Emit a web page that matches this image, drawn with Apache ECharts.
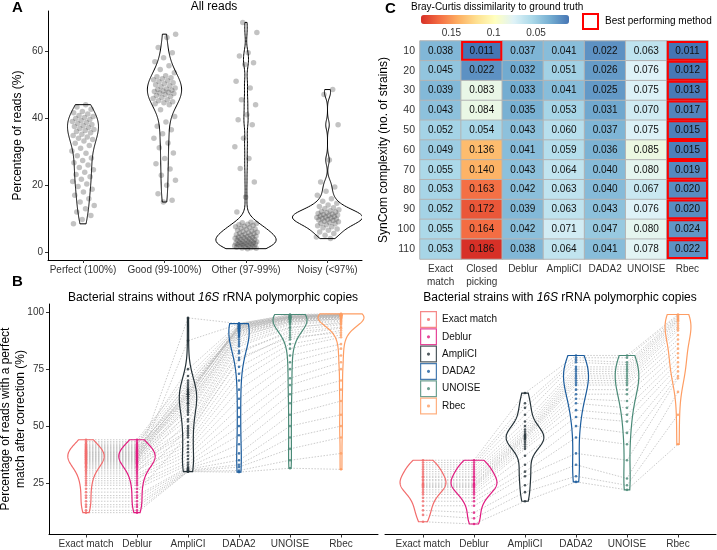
<!DOCTYPE html>
<html><head><meta charset="utf-8">
<script src="https://cdn.jsdelivr.net/npm/echarts@6/dist/echarts.min.js"></script>
<style>html,body{margin:0;padding:0;background:#fff}#c{width:717px;height:550px}</style>
</head><body><div id="c"></div>
<script>
// ===== Panel A: all reads =====
const readCats = ['Perfect (100%)', 'Good (99-100%)', 'Other (97-99%)', 'Noisy (<97%)'];
const perfectReads = [44.0, 43.3, 42.6,
  42.0, 41.6, 41.2, 40.8, 40.5, 40.2, 39.9, 39.6, 39.3, 39.0, 38.7, 38.4, 38.1, 37.8, 37.5, 37.2, 36.9, 36.6, 36.3, 36.0, 35.6, 35.2, 34.8, 34.4, 34.0, 33.6, 33.2,
  32.5, 31.8, 31.0, 30.2, 29.5, 28.8, 28.1, 27.4, 26.7, 26.0, 25.3, 24.6, 23.9, 23.2, 22.5, 21.8, 21.1, 20.4, 19.6, 18.8, 18.0, 17.0, 16.0, 15.0, 14.0, 13.0, 12.0, 11.0, 9.8, 8.5];
const goodReads = [65.0, 64.0, 61.0, 59.5, 58.0, 56.8, 55.6, 54.5, 53.5,
  52.6, 52.3, 52.0, 51.7, 51.4, 51.1, 50.8, 50.5, 50.2, 49.9, 49.6, 49.3, 49.0, 48.7, 48.5, 48.3, 48.1, 47.9, 47.7, 47.5, 47.3, 47.0, 46.7, 46.4, 46.1, 45.8, 45.5, 45.2, 44.9, 44.6, 44.3, 44.0,
  42.5, 40.5, 38.8, 37.6, 36.5, 35.3, 34.0, 32.6, 31.2, 29.6, 28.0, 26.4, 24.8, 23.0, 21.5, 20.0, 17.5, 15.5, 15.0];
const otherReads = [68.5, 65.5, 59.5, 58.5, 56.5, 56.0, 51.0, 49.0, 45.5, 44.0, 41.0, 39.5, 38.0, 34.0, 31.5, 28.0, 25.0, 21.0, 16.5, 12.0,
  9.0, 8.8, 8.6, 8.4, 8.2, 8.0, 7.8, 7.6, 7.4, 7.2, 7.0, 6.8, 6.6, 6.4, 6.2, 6.0,
  5.85, 5.7, 5.55, 5.4, 5.25, 5.1, 4.95, 4.8, 4.65, 4.5, 4.4, 4.35, 4.2, 4.05, 3.9, 3.8, 3.75, 3.6, 3.45, 3.3, 3.2, 3.15, 3.0,
  2.9, 2.8, 2.75, 2.7, 2.6, 2.5, 2.4, 2.3, 2.2, 2.1, 2.0, 1.9, 1.8, 1.7, 1.6, 1.5, 1.4, 1.3, 1.2, 1.1];
const noisyReads = [48.5, 47.0, 38.0, 27.5, 21.0, 19.5, 18.2, 17.0,
  16.0, 15.2, 14.6, 14.1, 13.7, 13.3, 13.0, 12.7, 12.4, 12.2, 12.0, 11.8, 11.6, 11.45, 11.3, 11.15, 11.0, 10.85, 10.7, 10.55, 10.4, 10.25, 10.1, 9.95, 9.8, 9.65, 9.5, 9.3, 9.1, 8.9, 8.7, 8.5, 8.2, 7.9, 7.6, 7.3, 7.0, 6.6,
  6.1, 5.6, 5.1, 4.6, 4.1];
const readTicks = [0, 20, 40, 60];

// ===== Panel B: strains, per method (one value per strain) =====
const methods = ['Exact match', 'Deblur', 'AmpliCI', 'DADA2', 'UNOISE', 'Rbec'];
const pctTicks = [25, 50, 75, 100];
// without 16S polymorphic copies
const noPolyExact = [44.0, 43.2, 42.6, 42.0, 41.5, 41.0, 40.6, 40.2, 39.8, 39.4, 39.0, 38.7, 38.4, 38.1, 37.8, 37.5, 37.2, 36.9, 36.6, 36.3, 36.0, 35.7, 35.4, 35.1, 34.8, 34.5, 34.1, 33.7, 33.3, 32.9, 32.4, 31.9, 31.3, 30.6, 29.8, 29.0, 28.0, 27.0, 26.0, 25.0, 24.0, 22.5, 21.0, 19.5, 18.5, 17.0, 15.5, 14.5, 13.0, 12.0];
const noPolyDeblur = [44.0, 43.2, 42.6, 42.0, 41.5, 41.0, 40.6, 40.2, 39.8, 39.4, 39.0, 38.7, 38.4, 38.1, 37.8, 37.5, 37.2, 36.9, 36.6, 36.3, 36.0, 35.7, 35.4, 35.1, 34.8, 34.5, 34.1, 33.7, 33.3, 32.9, 32.4, 31.9, 31.3, 30.6, 29.8, 29.0, 28.0, 27.0, 26.0, 25.0, 24.0, 22.5, 21.0, 19.5, 18.5, 17.0, 15.5, 14.5, 13.0, 12.0];
const noPolyAmpliCI = [72, 70, 68, 66, 75, 64, 65, 63, 67, 62, 64, 69, 61, 65, 60, 63, 58, 66, 57, 62, 55, 64, 53, 60, 50, 97.5, 48, 59, 47, 87.5, 45, 56, 43, 41.5, 52, 40, 38.5, 37, 49, 35.5, 34, 33, 46, 32, 31.5, 31, 30.6, 30.3, 30.1, 30];
const noPolyDADA2 = [94.5, 94.0, 94.5, 93.5, 95.0, 93.0, 92.5, 94.0, 93.0, 92.0, 94.5, 91.5, 93.5, 92.8, 90.5, 94.0, 91.0, 93.2, 89.5, 92.0, 88.0, 93.8, 87.0, 91.5, 85.0, 95.0, 82.0, 90.0, 79.0, 94.8, 76.0, 89.0, 73.0, 70.0, 86.0, 66.0, 62.0, 58.0, 83.0, 54.0, 50.0, 46.0, 80.0, 42.0, 38.0, 35.0, 33.0, 32.0, 30.5, 29.8];
const noPolyUNOISE = [98.5, 98.0, 98.3, 97.8, 98.8, 97.5, 97.6, 98.0, 97.0, 97.3, 98.2, 96.8, 97.8, 97.2, 96.5, 98.0, 96.0, 97.6, 95.5, 97.0, 95.0, 97.9, 94.5, 96.8, 93.0, 99.0, 92.0, 96.2, 90.0, 98.6, 88.0, 95.8, 86.0, 84.0, 93.5, 81.0, 78.0, 75.0, 91.0, 71.0, 68.0, 64.0, 89.0, 60.0, 55.0, 50.0, 45.0, 40.0, 35.0, 31.5];
const noPolyRbec = [99.0, 98.8, 99.0, 98.5, 99.2, 98.3, 98.7, 98.9, 98.0, 98.5, 98.9, 97.8, 98.6, 98.2, 97.5, 98.8, 97.0, 98.4, 97.2, 98.0, 96.5, 98.7, 96.0, 97.9, 95.5, 99.3, 94.5, 97.6, 93.0, 99.0, 92.0, 97.0, 90.0, 89.0, 95.0, 86.0, 84.0, 81.0, 93.5, 78.0, 75.0, 70.0, 91.0, 66.0, 61.0, 55.0, 50.0, 45.0, 38.0, 31.0];
// with 16S polymorphic copies
const polyExact = [35.0, 34.0, 33.0, 32.0, 31.0, 30.0, 29.0, 28.0, 27.5, 26.5, 26.0, 25.0, 24.5, 24.0, 23.5, 23.0, 22.0, 21.0, 20.0, 18.5, 17.0, 15.0, 13.0, 11.0, 8.0];
const polyDeblur = [35.0, 34.0, 33.0, 32.0, 31.0, 30.0, 29.0, 28.0, 27.5, 26.5, 26.0, 25.0, 24.5, 24.0, 23.5, 23.0, 22.0, 21.0, 20.0, 18.5, 17.0, 15.0, 12.0, 9.5, 7.0];
const polyAmpliCI = [64.5, 60.0, 58.0, 55.0, 52.0, 50.0, 48.5, 47.5, 46.5, 46.0, 45.5, 45.0, 44.5, 44.0, 43.0, 42.0, 41.0, 40.0, 37.0, 33.0, 30.0, 28.0, 24.0, 21.0, 17.0];
const polyDADA2 = [81.0, 80.0, 79.0, 78.0, 76.0, 75.0, 74.0, 73.0, 72.0, 71.0, 70.0, 69.0, 68.0, 66.0, 64.0, 62.0, 60.0, 57.0, 54.0, 50.0, 45.0, 38.0, 33.0, 28.0, 25.5];
const polyUNOISE = [81.0, 80.0, 78.0, 77.0, 76.0, 75.0, 74.0, 73.0, 72.0, 71.0, 70.0, 69.0, 68.0, 66.0, 64.0, 61.0, 58.0, 55.0, 52.0, 47.0, 42.0, 35.0, 27.0, 24.0, 22.0];
const polyRbec = [99.0, 98.5, 98.0, 97.5, 97.0, 96.5, 96.0, 95.0, 94.0, 93.0, 92.0, 90.0, 88.0, 86.0, 84.0, 82.0, 80.0, 78.0, 76.0, 74.0, 72.0, 71.0, 65.0, 55.0, 42.0];

// ===== Panel C: Bray-Curtis dissimilarity =====
const complexity = ['10', '20', '30', '40', '50', '60', '70', '80', '90', '100', '110'];
const hmMethods = ['Exact\nmatch', 'Closed\npicking', 'Deblur', 'AmpliCI', 'DADA2', 'UNOISE', 'Rbec'];
const bcExact = [0.038, 0.045, 0.039, 0.043, 0.052, 0.049, 0.055, 0.053, 0.052, 0.055, 0.053];
const bcClosed = [0.011, 0.022, 0.083, 0.084, 0.054, 0.136, 0.140, 0.163, 0.172, 0.164, 0.186];
const bcDeblur = [0.037, 0.032, 0.033, 0.035, 0.043, 0.041, 0.043, 0.042, 0.039, 0.042, 0.038];
const bcAmpliCI = [0.041, 0.051, 0.041, 0.053, 0.060, 0.059, 0.064, 0.063, 0.063, 0.071, 0.064];
const bcDADA2 = [0.022, 0.026, 0.025, 0.031, 0.037, 0.036, 0.040, 0.040, 0.043, 0.047, 0.041];
const bcUNOISE = [0.063, 0.076, 0.075, 0.070, 0.075, 0.085, 0.080, 0.067, 0.076, 0.080, 0.078];
const bcRbec = [0.011, 0.012, 0.013, 0.017, 0.015, 0.015, 0.019, 0.020, 0.020, 0.024, 0.022];
const colorbarTicks = [0.15, 0.1, 0.05];

// ===== styling =====
const FONT = '"Liberation Sans", Arial, Helvetica, sans-serif';
const methodColors = ['#f26b6b', '#e0197f', '#253238', '#1b5c9d', '#4a8a77', '#fe9d63'];
const rdylbu = ['#4575b4', '#74add1', '#abd9e9', '#e0f3f8', '#ffffbf', '#fee090', '#fdae61', '#f46d43', '#d73027'];
const tickText = '#333';
const readViolinHalfWidth = [0.19, 0.21, 0.37, 0.43];   // max half-width of each panel-A violin, in category units

// ===== helpers =====
function quantile(s, p) { const h = (s.length - 1) * p, lo = Math.floor(h), hi = Math.min(lo + 1, s.length - 1); return s[lo] + (h - lo) * (s[hi] - s[lo]); }
function kde(vals, n) {
  n = n || 160;
  const s = vals.slice().sort((a, b) => a - b), N = s.length;
  const mean = s.reduce((a, b) => a + b, 0) / N;
  const sd = Math.sqrt(s.reduce((a, b) => a + (b - mean) * (b - mean), 0) / (N - 1));
  let lo = Math.min(sd, (quantile(s, 0.75) - quantile(s, 0.25)) / 1.34);
  if (!(lo > 0)) lo = sd || 1;
  const bw = 0.9 * lo * Math.pow(N, -0.2);
  const ys = [], ds = [];
  for (let k = 0; k < n; k++) {
    const y = s[0] + (s[N - 1] - s[0]) * k / (n - 1);
    let d = 0;
    for (const v of s) { const z = (y - v) / bw; d += Math.exp(-0.5 * z * z); }
    ys.push(y); ds.push(d / (N * bw * Math.sqrt(2 * Math.PI)));
  }
  return { ys, ds };
}
// halfWidths given -> each violin scaled to its own max; otherwise ggplot "area" scaling (max 0.45)
function violinSeries(axisIdx, groups, colors, lw, halfWidths) {
  const kd = groups.map(g => kde(g));
  const maxAll = Math.max(...kd.map(k => Math.max(...k.ds)));
  const scale = kd.map((k, i) => halfWidths ? halfWidths[i] / Math.max(...k.ds) : 0.45 / maxAll);
  return {
    type: 'custom', xAxisIndex: axisIdx, yAxisIndex: axisIdx, clip: true, silent: true, z: 3,
    encode: { x: 0, y: 1 },
    data: groups.map((g, i) => [i, g[0]]),
    renderItem(params, api) {
      const i = params.dataIndex, k = kd[i], L = [], R = [];
      for (let j = 0; j < k.ys.length; j++) {
        const w = scale[i] * k.ds[j];
        L.push(api.coord([i - w, k.ys[j]]));
        R.push(api.coord([i + w, k.ys[j]]));
      }
      return { type: 'polygon', shape: { points: L.concat(R.reverse()) }, style: { fill: 'none', stroke: colors[i], lineWidth: lw } };
    }
  };
}
function jitter(i, c) { return (((i + 1) * 0.6180339887 + c * 0.37) % 1 - 0.5) * 0.28; }

const series = [];
// --- A ---
const readGroups = [perfectReads, goodReads, otherReads, noisyReads];
series.push(violinSeries(0, readGroups, ['#000', '#000', '#000', '#000'], 1, readViolinHalfWidth));
const aPts = [];
readGroups.forEach((g, c) => g.forEach((v, i) => aPts.push([c + jitter(i, c), v])));
series.push({ type: 'scatter', xAxisIndex: 0, yAxisIndex: 0, data: aPts, symbolSize: 5.5, silent: true, z: 2,
  itemStyle: { color: 'rgba(40,40,40,0.35)' } });

// --- B panels ---
function strainPanel(axisIdx, arrays) {
  const n = arrays[0].length;
  for (let s = 0; s < n; s++) {
    series.push({ type: 'line', xAxisIndex: axisIdx, yAxisIndex: axisIdx, symbol: 'none', silent: true, z: 1,
      data: arrays.map((a, mi) => [mi, a[s]]),
      lineStyle: { color: '#b4b4b4', width: 0.7, type: [1.5, 1.5] } });
  }
  series.push(violinSeries(axisIdx, arrays, methodColors, 1.2));
  arrays.forEach((a, mi) => {
    series.push({ type: 'scatter', name: methods[mi], xAxisIndex: axisIdx, yAxisIndex: axisIdx, silent: true, z: 4,
      data: a.map(v => [mi, v]), symbolSize: 2.6, itemStyle: { color: methodColors[mi] } });
  });
}
strainPanel(1, [noPolyExact, noPolyDeblur, noPolyAmpliCI, noPolyDADA2, noPolyUNOISE, noPolyRbec]);
strainPanel(2, [polyExact, polyDeblur, polyAmpliCI, polyDADA2, polyUNOISE, polyRbec]);

// --- C heatmap ---
const bcCols = [bcExact, bcClosed, bcDeblur, bcAmpliCI, bcDADA2, bcUNOISE, bcRbec];
const hmData = [];
bcCols.forEach((col, xi) => col.forEach((v, yi) => hmData.push([xi, yi, v])));
const allBC = hmData.map(d => d[2]);
const bcMin = Math.min(...allBC), bcMax = Math.max(...allBC);
const best = [];
complexity.forEach((c, yi) => {
  const row = bcCols.map(col => col[yi]);
  const m = Math.min(...row);
  row.forEach((v, xi) => { if (v === m) best.push([xi, yi]); });
});
const hmIndex = series.length;
series.push({ type: 'heatmap', xAxisIndex: 3, yAxisIndex: 3, data: hmData, silent: true,
  itemStyle: { borderColor: '#b4b4b4', borderWidth: 1 },
  label: { show: true, fontSize: 10, color: '#111', fontFamily: FONT, formatter: p => p.value[2].toFixed(3) },
  emphasis: { disabled: true } });
series.push({ type: 'custom', xAxisIndex: 3, yAxisIndex: 3, silent: true, z: 5, encode: { x: 0, y: 1 }, data: best,
  renderItem(params, api) {
    const c = api.coord([api.value(0), api.value(1)]), s = api.size([1, 1]);
    return { type: 'rect', shape: { x: c[0] - s[0] / 2 + 1, y: c[1] - s[1] / 2 + 1, width: s[0] - 2, height: s[1] - 2 },
      style: { fill: 'none', stroke: '#ff0000', lineWidth: 2 } };
  } });

// ===== axes =====
const axLine = { show: true, onZero: false, lineStyle: { color: '#000', width: 1 } };
const axTick = (vals) => ({ show: true, length: 3, lineStyle: { color: '#333' }, customValues: vals });
const lab = (vals, fmt) => ({ customValues: vals, formatter: fmt, color: tickText, fontSize: 10, fontFamily: FONT, margin: 5 });
const idx6 = [0, 1, 2, 3, 4, 5];

const option = {
  animation: false,
  textStyle: { fontFamily: FONT },
  grid: [
    { left: 48, top: 11, width: 314, height: 249, outerBoundsMode: 'none' },
    { left: 49, top: 304, width: 329, height: 230.5, outerBoundsMode: 'none' },
    { left: 385, top: 304, width: 331, height: 230.5, outerBoundsMode: 'none' },
    { left: 420, top: 41, width: 288, height: 218, outerBoundsMode: 'none' },
    { left: 421, top: 23, width: 148, height: 1, outerBoundsMode: 'none' }
  ],
  xAxis: [
    { type: 'value', gridIndex: 0, min: -0.4294, max: 3.4233, splitLine: { show: false }, axisLine: axLine,
      axisTick: axTick([0, 1, 2, 3]), axisLabel: lab([0, 1, 2, 3], v => readCats[Math.round(v)]) },
    { type: 'value', gridIndex: 1, min: -0.725, max: 5.725, splitLine: { show: false }, axisLine: axLine,
      axisTick: axTick(idx6), axisLabel: lab(idx6, v => methods[Math.round(v)]) },
    { type: 'value', gridIndex: 2, min: -0.745, max: 5.745, splitLine: { show: false }, axisLine: axLine,
      axisTick: axTick(idx6), axisLabel: lab(idx6, v => methods[Math.round(v)]) },
    { type: 'category', gridIndex: 3, data: hmMethods, axisLine: { show: false }, axisTick: { show: false },
      axisLabel: { interval: 0, color: tickText, fontSize: 10, lineHeight: 13, margin: 4, fontFamily: FONT } },
    { type: 'value', gridIndex: 4, inverse: true, min: bcMin, max: bcMax, splitLine: { show: false },
      axisLine: { show: false }, axisTick: { show: false },
      axisLabel: { customValues: colorbarTicks, formatter: v => String(v), color: tickText, fontSize: 10, margin: 4, fontFamily: FONT } }
  ],
  yAxis: [
    { type: 'value', gridIndex: 0, min: -2.27, max: 71.9, splitLine: { show: false }, axisLine: axLine,
      axisTick: axTick(readTicks), axisLabel: lab(readTicks, v => String(v)) },
    { type: 'value', gridIndex: 1, min: 2.4, max: 103.6, splitLine: { show: false }, axisLine: axLine,
      axisTick: axTick(pctTicks), axisLabel: lab(pctTicks, v => String(v)) },
    { type: 'value', gridIndex: 2, min: 2.4, max: 103.6, show: false },
    { type: 'category', gridIndex: 3, data: complexity, inverse: true, axisLine: { show: false }, axisTick: { show: false },
      axisLabel: { color: tickText, fontSize: 10.5, margin: 5, fontFamily: FONT } },
    { type: 'value', gridIndex: 4, show: false, min: 0, max: 1 }
  ],
  visualMap: {
    type: 'continuous', seriesIndex: hmIndex, min: bcMin, max: bcMax, orient: 'horizontal', inverse: true,
    left: 421, top: 15, itemWidth: 9, itemHeight: 148, calculable: false, padding: 0, text: null, showLabel: false,
    inRange: { color: rdylbu }
  },
  legend: {
    data: methods, orient: 'vertical', left: 415, top: 306, itemWidth: 17, itemHeight: 17, itemGap: 0.3,
    selectedMode: false, textStyle: { fontSize: 10, color: '#111', fontFamily: FONT },
    icon: 'path://M0,0L18,0L18,18L0,18Z M1.3,1.3L1.3,16.7L16.7,16.7L16.7,1.3Z M9,7.3L10.2,7.8L10.7,9L10.2,10.2L9,10.7L7.8,10.2L7.3,9L7.8,7.8Z'
  },
  graphic: [
    { type: 'text', x: 12, y: 0, style: { text: 'A', font: 'bold 15px ' + FONT, fill: '#000' } },
    { type: 'text', x: 12, y: 274, style: { text: 'B', font: 'bold 15px ' + FONT, fill: '#000' } },
    { type: 'text', x: 385, y: 1, style: { text: 'C', font: 'bold 15px ' + FONT, fill: '#000' } },
    { type: 'text', x: 214, y: 7, style: { text: 'All reads', font: '12px ' + FONT, fill: '#000', align: 'center', verticalAlign: 'middle' } },
    { type: 'text', x: 213, y: 298, style: { text: 'Bacterial strains without {i|16S} rRNA polymorphic copies', font: '12px ' + FONT, fill: '#000', align: 'center', verticalAlign: 'middle',
      rich: { i: { fontStyle: 'italic', fontSize: 12, fontFamily: FONT, fill: '#000' } } } },
    { type: 'text', x: 560, y: 298, style: { text: 'Bacterial strains with {i|16S} rRNA polymorphic copies', font: '12px ' + FONT, fill: '#000', align: 'center', verticalAlign: 'middle',
      rich: { i: { fontStyle: 'italic', fontSize: 12, fontFamily: FONT, fill: '#000' } } } },
    { type: 'text', x: 18, y: 135.5, rotation: Math.PI / 2, style: { text: 'Percentage of reads (%)', font: '12px ' + FONT, fill: '#000', align: 'center', verticalAlign: 'middle' } },
    { type: 'text', x: 13, y: 419, rotation: Math.PI / 2, style: { text: 'Percentage of reads with a perfect\nmatch after correction (%)', font: '12px ' + FONT, lineHeight: 15.5, fill: '#000', align: 'center', verticalAlign: 'middle' } },
    { type: 'text', x: 384, y: 150, rotation: Math.PI / 2, style: { text: 'SynCom complexity (no. of strains)', font: '12px ' + FONT, fill: '#000', align: 'center', verticalAlign: 'middle' } },
    { type: 'text', x: 411, y: 7, style: { text: 'Bray-Curtis dissimilarity to ground truth', font: '10px ' + FONT, fill: '#000', verticalAlign: 'middle' } },
    { type: 'rect', shape: { x: 583, y: 14, width: 15, height: 15 }, style: { fill: 'none', stroke: '#ff0000', lineWidth: 2 } },
    { type: 'text', x: 605, y: 21.5, style: { text: 'Best performing method', font: '10px ' + FONT, fill: '#000', verticalAlign: 'middle' } }
  ],
  series
};
const chart = echarts.init(document.getElementById('c'), null, { renderer: 'canvas' });
chart.setOption(option);
</script></body></html>
